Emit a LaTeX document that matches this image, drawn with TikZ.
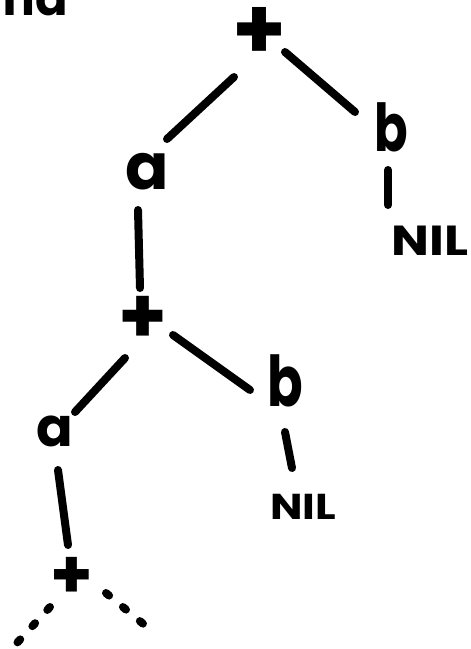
\documentclass[tikz,border=0pt]{standalone}
\usepackage{fontspec}
\setmainfont{Poppins}[BoldFont={* Bold}]
\usetikzlibrary{calc}
\tikzset{
  glyph/.style={inner sep=0pt, outer sep=0pt, font=\bfseries},
  plus/.style={inner sep=0pt, outer sep=0pt},
  pen/.style={line width=8pt, line cap=round, line join=round},
  dots/.style={pen, dash pattern=on 4pt off 18pt},
}
\begin{document}
\begin{tikzpicture}[x=1pt,y=-1pt]
\useasboundingbox (0,0) rectangle (471,649);
% cut-off text fragment at top-left
\node[glyph, anchor=base east, font=\bfseries\fontsize{48}{48}\selectfont] (frag) at (68,15) {ma};
% level 1
\node[plus, font=\bfseries\fontsize{86}{86}\selectfont] (plus1) at (260,33) {+};
\node[glyph, font=\bfseries\fontsize{64}{64}\selectfont] (a1) at (147,172) {a};
\node[glyph, xscale=0.75, font=\bfseries\fontsize{66}{66}\selectfont] (b1) at (391,127) {b};
\node[glyph, xscale=1.2, font=\bfseries\fontsize{42}{42}\selectfont] (nil1) at (430,241) {NIL};
% level 2
\node[plus, font=\bfseries\fontsize{78}{78}\selectfont] (plus2) at (143,320) {+};
\node[glyph, font=\bfseries\fontsize{54}{54}\selectfont] (a2) at (55,431) {a};
\node[glyph, xscale=0.75, font=\bfseries\fontsize{70}{70}\selectfont] (b2) at (285,381) {b};
\node[glyph, xscale=1.2, font=\bfseries\fontsize{36}{36}\selectfont] (nil2) at (303,507) {NIL};
% level 3
\node[plus, font=\bfseries\fontsize{68}{68}\selectfont] (plus3) at (72,578) {+};
\coordinate (l3) at (16,644);
\coordinate (r3) at (147,627);
% connectors
\draw[pen] ($(plus1)+(-26,44)$) -- ($(a1)+(20,-33)$);
\draw[pen] ($(plus1)+(25,19)$) -- ($(b1)+(-36,-15)$);
\draw[pen] ($(b1)+(-3,43)$) -- ($(nil1)+(-42,-36)$);
\draw[pen] ($(a1)+(-9,38)$) -- ($(plus2)+(-3,-32)$);
\draw[pen] ($(plus2)+(-18,38)$) -- ($(a2)+(20,-19)$);
\draw[pen] ($(plus2)+(30,15)$) -- ($(b2)+(-35,9)$);
\draw[pen] ($(b2)+(0,51)$) -- ($(nil2)+(-11,-39)$);
\draw[pen] ($(a2)+(3,39)$) -- ($(plus3)+(-4,-33)$);
\draw[dots] ($(plus3)+(-22,29)$) -- (l3);
\draw[dots] ($(plus3)+(34,15)$) -- (r3);
\end{tikzpicture}
\end{document}
